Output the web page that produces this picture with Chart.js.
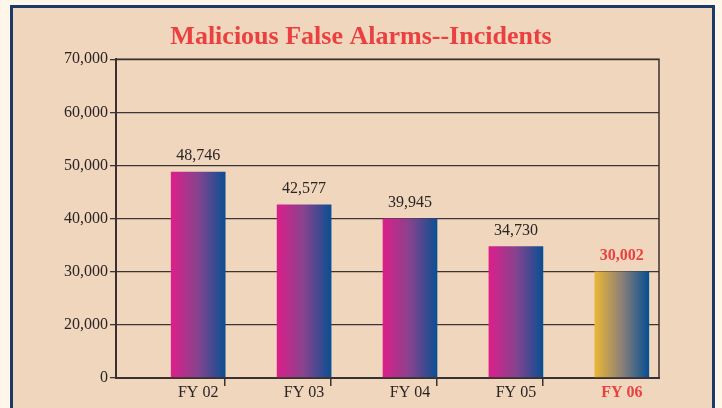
<!DOCTYPE html>
<html>
<head>
<meta charset="utf-8">
<script src="https://cdn.jsdelivr.net/npm/chart.js@4.4.1/dist/chart.umd.min.js"></script>
<style>
  html, body { margin: 0; padding: 0; background: #fdf6e9; overflow: hidden; }
  #panel { position: absolute; left: 10px; top: 5px; width: 699px; height: 420px;
           border: 3px solid #1b3a6b; background: #efd6bd; }
  #chart { position: absolute; left: 0; top: 0; }
</style>
</head>
<body>
<div id="panel"></div>
<canvas id="chart" width="722" height="408"></canvas>
<script>
const years = ['FY 02', 'FY 03', 'FY 04', 'FY 05', 'FY 06'];
const incidents = [48746, 42577, 39945, 34730, 30002];
// broken axis: the bottom tick (10,000) is shown as 0
const yTicks = [10000, 20000, 30000, 40000, 50000, 60000, 70000];

const INK = '#2b2424';
const RED = '#ea4040';
const SERIF = '"Liberation Serif", "Times New Roman", serif';

// horizontal gradient across each bar, last year highlighted in gold
function barFill(c) {
  const chart = c.chart;
  const xs = chart.scales.x;
  if (!chart.chartArea || !xs) return '#7a3f8c';
  const cx = xs.getPixelForValue(c.dataIndex);
  const g = chart.ctx.createLinearGradient(cx - 27, 0, cx + 27, 0);
  if (c.dataIndex === incidents.length - 1) {
    g.addColorStop(0, '#eab636');
    g.addColorStop(0.5, '#8c8078');
    g.addColorStop(1, '#064f92');
  } else {
    g.addColorStop(0, '#dc1f8a');
    g.addColorStop(0.5, '#86438e');
    g.addColorStop(1, '#0a4f92');
  }
  return g;
}

// value labels above bars + right/top frame of the plot
const valueLabels = {
  id: 'valueLabels',
  afterDatasetsDraw(chart) {
    const { ctx, chartArea } = chart;
    ctx.save();
    ctx.strokeStyle = '#3a3232';
    ctx.lineWidth = 1.5;
    ctx.strokeRect(chartArea.left, chartArea.top, chartArea.width, chartArea.height);
    ctx.textAlign = 'center';
    ctx.textBaseline = 'alphabetic';
    chart.getDatasetMeta(0).data.forEach((bar, i) => {
      const last = i === incidents.length - 1;
      ctx.font = (last ? 'bold ' : '') + '16px ' + SERIF;
      ctx.fillStyle = last ? RED : INK;
      ctx.fillText(incidents[i].toLocaleString('en-US'), bar.x, bar.y - 12);
    });
    ctx.restore();
  }
};

new Chart(document.getElementById('chart'), {
  type: 'bar',
  data: {
    datasets: [{
      data: years.map((y, i) => ({ x: i, y: incidents[i] })),
      base: 10000,
      barThickness: 54,
      backgroundColor: barFill,
      borderWidth: 0
    }]
  },
  options: {
    responsive: false,
    animation: false,
    layout: { padding: { left: 0, right: 0, top: 8, bottom: 0 } },
    plugins: {
      legend: { display: false },
      tooltip: { enabled: false },
      title: {
        display: true,
        text: 'Malicious False Alarms--Incidents',
        color: RED,
        font: { family: SERIF, size: 26, weight: 'bold', lineHeight: 1.2 },
        padding: { top: 14, bottom: 6 }
      }
    },
    scales: {
      y: {
        min: 10000,
        max: 70000,
        afterBuildTicks: s => { s.ticks = yTicks.map(v => ({ value: v })); },
        afterFit: s => { s.width = 116; },
        ticks: {
          color: INK,
          padding: 2,
          font: { family: SERIF, size: 16 },
          callback: v => v === 10000 ? '0' : v.toLocaleString('en-US')
        },
        grid: { color: '#3d3535', lineWidth: 1.3, tickLength: 6 },
        border: { display: true, color: '#3a3232', width: 2 }
      },
      yRight: {
        position: 'right',
        min: 10000,
        max: 70000,
        afterFit: s => { s.width = 63; },
        ticks: { display: false },
        grid: { display: false, drawTicks: false },
        border: { display: false }
      },
      x: {
        type: 'linear',
        position: 'bottom',
        weight: 1,
        offset: false,
        min: -0.776,
        max: 4.351,
        afterBuildTicks: s => { s.ticks = years.map((y, i) => ({ value: i })); },
        afterFit: s => { s.height = 30; },
        ticks: {
          padding: 5,
          color: c => c.index === years.length - 1 ? RED : INK,
          font: c => ({ family: SERIF, size: 16, weight: c.index === years.length - 1 ? 'bold' : 'normal' }),
          callback: v => years[v] ?? ''
        },
        grid: { display: false, drawTicks: false, offset: false },
        border: { display: true, color: '#3a3232', width: 2 }
      },
      xMarks: {
        type: 'linear',
        position: 'bottom',
        weight: 0,
        offset: false,
        min: -0.776,
        max: 4.351,
        afterBuildTicks: s => { s.ticks = years.slice(0, -1).map((y, i) => ({ value: i + 0.255 })); },
        afterFit: s => { s.height = 0; },
        ticks: { display: false },
        grid: { offset: false, drawOnChartArea: false, drawTicks: true, tickLength: 8, color: '#3a3232', lineWidth: 1.5 },
        border: { display: false }
      }
    }
  },
  plugins: [valueLabels]
});
</script>
</body>
</html>
